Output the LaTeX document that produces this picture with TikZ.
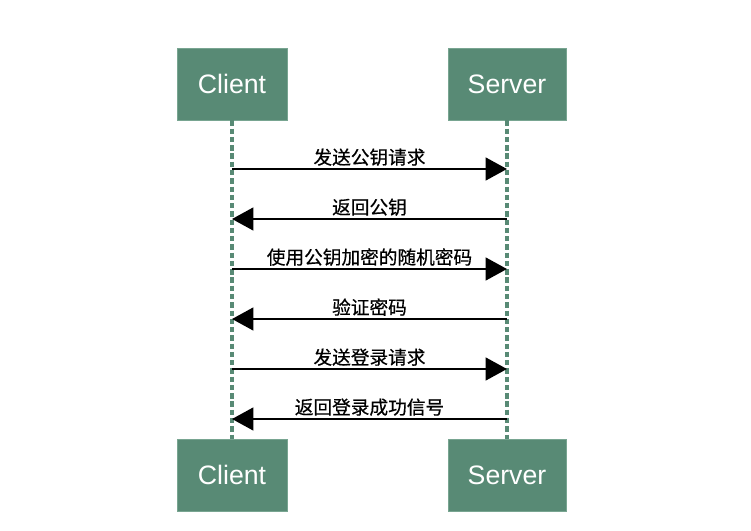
\documentclass[tikz,border=0pt]{standalone}
\usepackage{fontspec}
\setmainfont{Liberation Sans}
\newfontfamily\cjk[FakeBold=0.5]{Noto Sans CJK SC}
\usetikzlibrary{arrows.meta}
\definecolor{boxgreen}{RGB}{88,138,117}
\definecolor{boxedge}{RGB}{120,165,145}

\begin{document}
\begin{tikzpicture}[x=0.75pt, y=-0.75pt,
  actor/.style={draw=boxedge, line width=0.6pt, fill=boxgreen, text=white,
    minimum height=54pt, inner sep=0pt, font=\fontsize{20}{24}\selectfont},
  lifeline/.style={draw=boxgreen, line width=2.6pt, dash pattern=on 4pt off 2.2pt},
  msg/.style={-{Triangle[length=16pt,width=17pt]}, line width=1.8pt},
  msglabel/.style={above=1.5pt, inner sep=0pt, font=\cjk\fontsize{14}{16}\selectfont}]
  \useasboundingbox (0,0) rectangle (751,531);
  % Actor boxes
  \node[actor, minimum width=82.5pt] (clientTop) at (232,84) {Client};
  \node[actor, minimum width=88.5pt] (serverTop) at (507,84) {Server};
  \node[actor, minimum width=82.5pt] (clientBot) at (232,475) {Client};
  \node[actor, minimum width=88.5pt] (serverBot) at (507,475) {Server};
  % Lifelines
  \draw[lifeline] (clientTop.south) -- (clientBot.north);
  \draw[lifeline] (serverTop.south) -- (serverBot.north);
  % Message points on client lifeline
  \coordinate (c1) at (232,169);
  \coordinate (c2) at (232,219);
  \coordinate (c3) at (232,269);
  \coordinate (c4) at (232,319);
  \coordinate (c5) at (232,369);
  \coordinate (c6) at (232,419);
  % Message points on server lifeline
  \coordinate (s1) at (507,169);
  \coordinate (s2) at (507,219);
  \coordinate (s3) at (507,269);
  \coordinate (s4) at (507,319);
  \coordinate (s5) at (507,369);
  \coordinate (s6) at (507,419);
  % Messages
  \draw[msg] (c1) -- node[msglabel] (m1) {发送公钥请求} (s1);
  \draw[msg] (s2) -- node[msglabel] (m2) {返回公钥} (c2);
  \draw[msg] (c3) -- node[msglabel] (m3) {使用公钥加密的随机密码} (s3);
  \draw[msg] (s4) -- node[msglabel] (m4) {验证密码} (c4);
  \draw[msg] (c5) -- node[msglabel] (m5) {发送登录请求} (s5);
  \draw[msg] (s6) -- node[msglabel] (m6) {返回登录成功信号} (c6);
\end{tikzpicture}
\end{document}
